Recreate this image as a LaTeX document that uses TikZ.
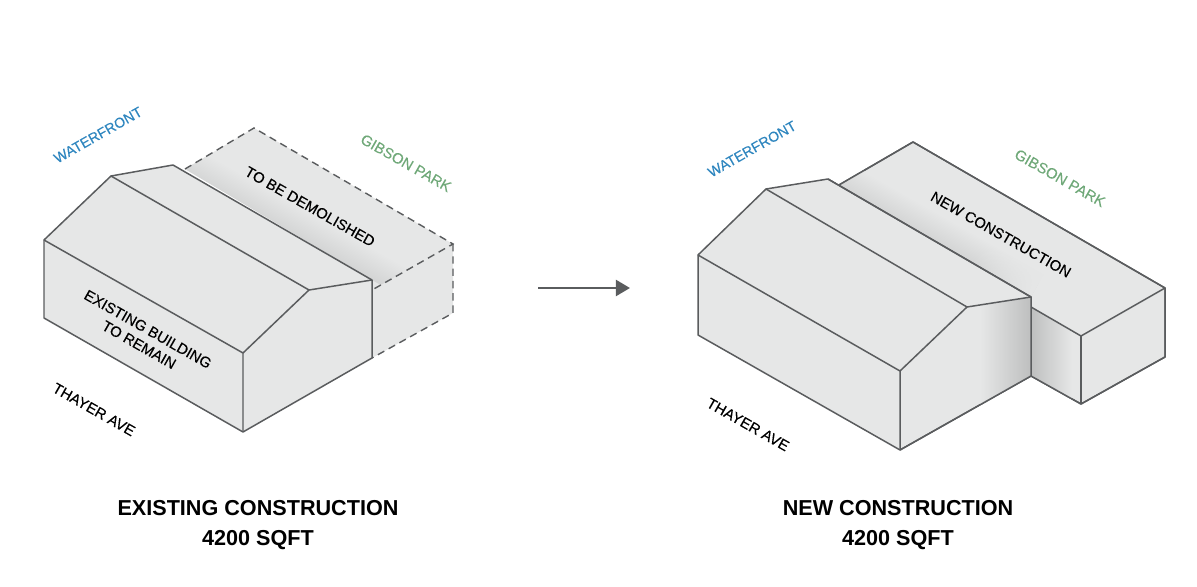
\documentclass[tikz,border=0pt]{standalone}
\usepackage{fontspec}
\setmainfont{Liberation Sans}
\newfontfamily\labelfont[FakeBold=0.25]{Liberation Sans}
\usetikzlibrary{arrows.meta,fadings}
\definecolor{massfill}{HTML}{E6E7E7}
\definecolor{massline}{HTML}{5A5C5E}
\definecolor{massshade}{HTML}{D3D4D4}
\definecolor{massdark}{HTML}{BEBFBF}
\definecolor{waterblue}{HTML}{2F86BF}
\definecolor{parkgreen}{HTML}{6FA878}
\tikzfading[name=fadecorner, left color=transparent!100, right color=transparent!0]
\tikzset{
  mass/.style={fill=massfill, draw=massline, line width=0.85pt, line join=round},
  ghost/.style={draw=massline, line width=0.8pt, dash pattern=on 4.2pt off 2.8pt},
  streetlabel/.style={font=\labelfont\fontsize{8.45}{10.2}\selectfont, align=center},
  waterlabel/.style={font=\labelfont\fontsize{8.1}{10.2}\selectfont, text=waterblue, rotate=29.6},
  titlelabel/.style={font=\fontsize{12.3}{17}\selectfont\bfseries, align=center}
}
\begin{document}
\begin{tikzpicture}[x=0.02cm, y=-0.02cm]
\useasboundingbox (0,0) rectangle (1197,587);

% Existing: block to be demolished
\fill[massfill] (185,169) -- (254,128) -- (453,244) -- (453,313) -- (372,358) -- (372,280) -- cycle;
\begin{scope}
  \clip (185,169) -- (254,128) -- (453,244) -- (372,290) -- (372,280) -- cycle;
  \shade[transform canvas={rotate around={-29.6:(372,280)}}, top color=massfill, bottom color=massshade] (-30,252) rectangle (420,280);
\end{scope}
\draw[ghost] (185,169) -- (254,128) -- (453,244) -- (372,290);
\draw[ghost] (453,244) -- (453,313) -- (372,358);

% Existing: building to remain
\draw[mass] (44,240) -- (111,176) -- (173,165) -- (372,280) -- (372,358) -- (243,432) -- (44,318) -- cycle;
\draw[mass, fill=none] (44,240) -- (243,353) -- (243,432);
\draw[mass, fill=none] (243,353) -- (309,290) -- (372,280);
\draw[mass, fill=none] (111,176) -- (309,290);

% Existing: labels
\node[waterlabel] (waterfrontold) at (98,135) {WATERFRONT};
\node[streetlabel, text=parkgreen, rotate=-29.6] (parkold) at (406,163) {GIBSON PARK};
\node[streetlabel, rotate=-29.6] (demolished) at (310,206.5) {TO BE DEMOLISHED};
\node[streetlabel, rotate=-29.6] (remain) at (143.5,337) {EXISTING BUILDING\\TO REMAIN};
\node[streetlabel, rotate=-29.6] (thayerold) at (94,409.5) {THAYER AVE};
\node[titlelabel] (titleold) at (258,525) {EXISTING CONSTRUCTION\\4200 SQFT};

% Arrow
\coordinate (arrowstart) at (538,288);
\coordinate (arrowend) at (630,288);
\draw[massline, line width=1.6pt, -{Triangle[length=8pt, width=9pt]}] (arrowstart) -- (arrowend);

% New: rear block
\draw[mass] (839,185) -- (913,142) -- (1165,288) -- (1165,357) -- (1081,404) -- (1031,376) -- (1031,297) -- cycle;
\begin{scope}
  \clip (839,185) -- (913,142) -- (1165,288) -- (1081,336) -- (1031,307) -- (1031,297) -- cycle;
  \shade[transform canvas={rotate around={-29.6:(1031,297)}}, top color=massfill, bottom color=massshade] (650,270) rectangle (1200,297);
  \fill[massfill, path fading=fadecorner, transform canvas={rotate around={-29.6:(1031,297)}}] (960,265) rectangle (1031,300);
  \fill[massfill, transform canvas={rotate around={-29.6:(1031,297)}}] (1031,265) rectangle (1210,330);
\end{scope}
\begin{scope}
  \clip (1031,307) -- (1081,336) -- (1081,404) -- (1031,376) -- cycle;
  \shade[left color=massdark, right color=massfill] (1031,300) rectangle (1072,410);
\end{scope}
\draw[mass, fill=none] (839,185) -- (913,142) -- (1165,288) -- (1165,357) -- (1081,404) -- (1031,376);
\draw[mass, fill=none] (1031,307) -- (1081,336) -- (1165,288);
\draw[mass, fill=none] (1081,336) -- (1081,404);

% New: front building
\draw[mass] (698,255) -- (766,189) -- (828,179) -- (1031,297) -- (1031,376) -- (900,450) -- (698,335) -- cycle;
\begin{scope}
  \clip (900,371) -- (967,307) -- (1031,297) -- (1031,376) -- (900,450) -- cycle;
  \shade[left color=massfill, right color=massdark] (980,290) rectangle (1031,460);
\end{scope}
\draw[mass, fill=none] (828,179) -- (1031,297) -- (1031,376) -- (900,450);
\draw[mass, fill=none] (698,255) -- (900,371) -- (900,450);
\draw[mass, fill=none] (900,371) -- (967,307) -- (1031,297);
\draw[mass, fill=none] (766,189) -- (967,307);

% New: labels
\node[waterlabel] (waterfrontnew) at (752,149) {WATERFRONT};
\node[streetlabel, text=parkgreen, rotate=-29.6] (parknew) at (1060,178) {GIBSON PARK};
\node[streetlabel, rotate=-29.6] (construction) at (1001,234.5) {NEW CONSTRUCTION};
\node[streetlabel, rotate=-29.6] (thayernew) at (748,424.5) {THAYER AVE};
\node[titlelabel] (titlenew) at (898,525) {NEW CONSTRUCTION\\4200 SQFT};

\end{tikzpicture}
\end{document}
